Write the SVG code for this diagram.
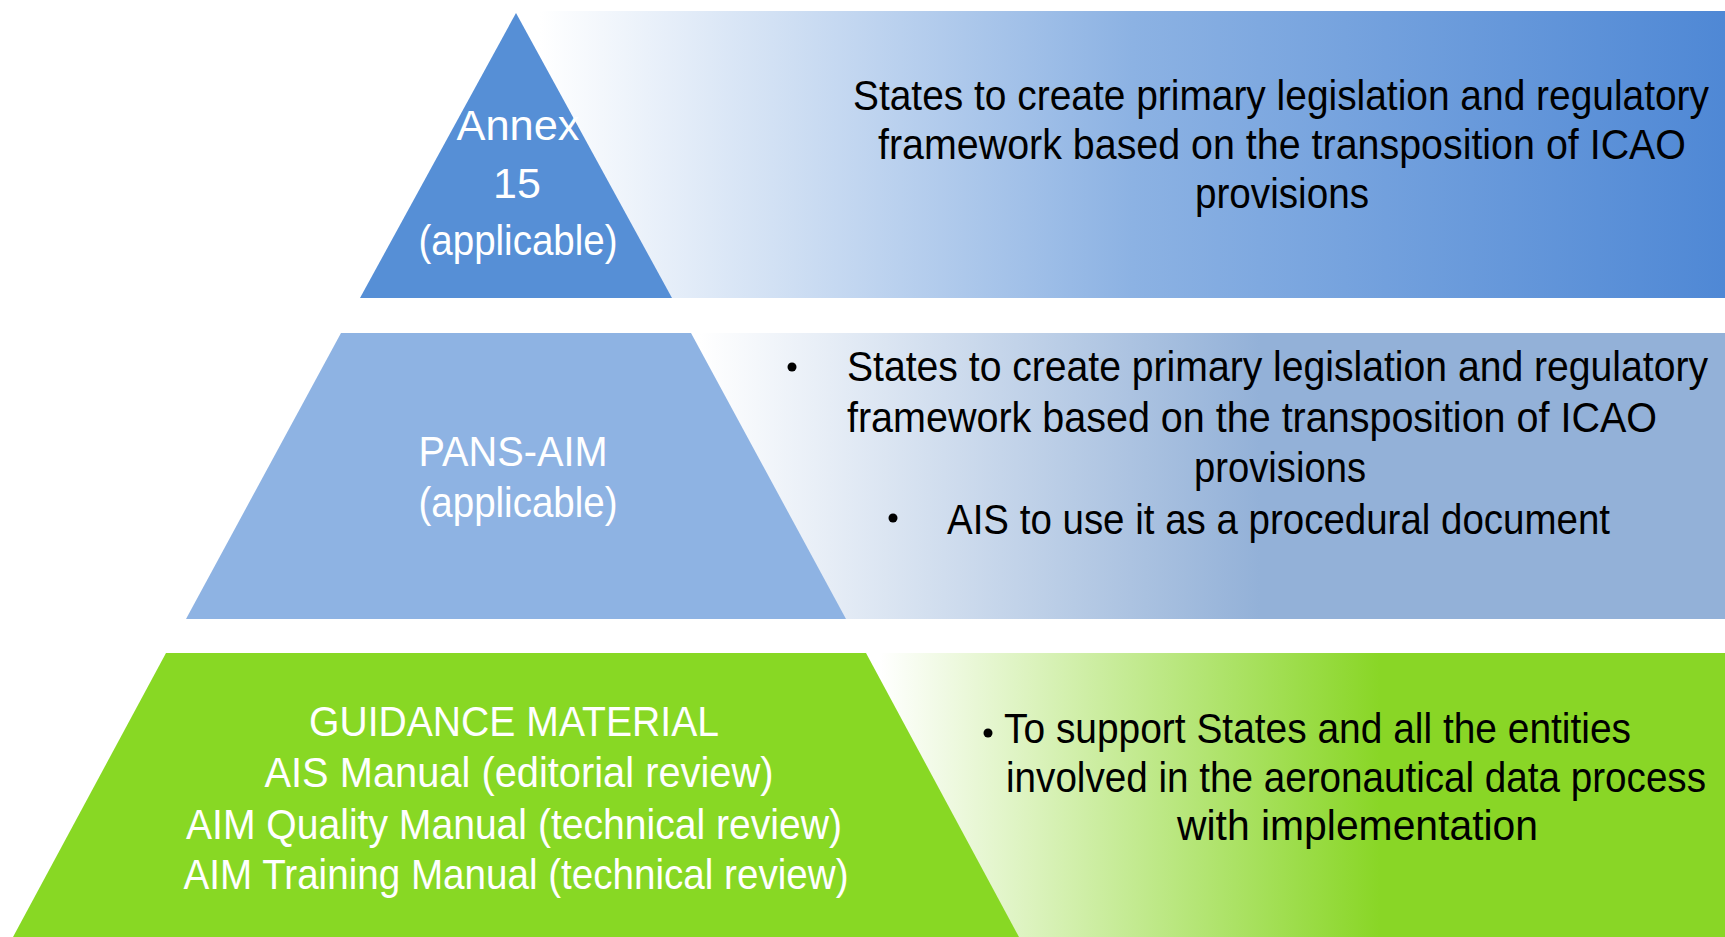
<svg xmlns="http://www.w3.org/2000/svg" width="1725" height="937" viewBox="0 0 1725 937">
<style>
.t{font-family:"Liberation Sans",Arial,sans-serif;font-size:42px;fill:#000}
.w{font-family:"Liberation Sans",Arial,sans-serif;font-size:43px;fill:#fff}
</style>
<defs>
<linearGradient id="g1" gradientUnits="userSpaceOnUse" x1="540" y1="0" x2="1725" y2="0">
<stop offset="0" stop-color="#ffffff"/>
<stop offset="0.5" stop-color="#8cb2e3"/>
<stop offset="1" stop-color="#4f88d5"/>
</linearGradient>
<linearGradient id="g2" gradientUnits="userSpaceOnUse" x1="700" y1="0" x2="1260" y2="0">
<stop offset="0" stop-color="#ffffff"/>
<stop offset="1" stop-color="#93b1d8"/>
</linearGradient>
<linearGradient id="g3" gradientUnits="userSpaceOnUse" x1="880" y1="0" x2="1380" y2="0">
<stop offset="0" stop-color="#ffffff"/>
<stop offset="1" stop-color="#89d626"/>
</linearGradient>
</defs>
<rect width="1725" height="937" fill="#fff"/>
<g id="band1">
<rect x="500" y="11" width="1225" height="287" fill="url(#g1)"/>
<text class="t" x="1709" y="110" text-anchor="end" textLength="856" lengthAdjust="spacingAndGlyphs">States to create primary legislation and regulatory</text>
<text class="t" x="1686" y="159" text-anchor="end" textLength="808" lengthAdjust="spacingAndGlyphs">framework based on the transposition of ICAO</text>
<text class="t" x="1282" y="208" text-anchor="middle" textLength="174" lengthAdjust="spacingAndGlyphs">provisions</text>
</g>
<g id="band2">
<rect x="650" y="333" width="1075" height="286" fill="url(#g2)"/>
<circle cx="792" cy="367" r="4.5" fill="#000"/>
<text class="t" x="1708" y="381" text-anchor="end" textLength="861" lengthAdjust="spacingAndGlyphs">States to create primary legislation and regulatory</text>
<text class="t" x="1657" y="432" text-anchor="end" textLength="810" lengthAdjust="spacingAndGlyphs">framework based on the transposition of ICAO</text>
<text class="t" x="1280" y="482" text-anchor="middle" textLength="172" lengthAdjust="spacingAndGlyphs">provisions</text>
<circle cx="893" cy="518" r="4.5" fill="#000"/>
<text class="t" x="1610" y="534" text-anchor="end" textLength="663" lengthAdjust="spacingAndGlyphs">AIS to use it as a procedural document</text>
</g>
<g id="band3">
<rect x="840" y="653" width="885" height="284" fill="url(#g3)"/>
<circle cx="988" cy="733" r="4.5" fill="#000"/>
<text class="t" x="1631" y="743" text-anchor="end" textLength="627" lengthAdjust="spacingAndGlyphs">To support States and all the entities</text>
<text class="t" x="1706" y="792" text-anchor="end" textLength="700" lengthAdjust="spacingAndGlyphs">involved in the aeronautical data process</text>
<text class="t" x="1177" y="840" textLength="361" lengthAdjust="spacingAndGlyphs">with implementation</text>
</g>
<g id="annex15">
<polygon points="516,13 672,298 360,298" fill="#568fd6"/>
<text class="w" x="518" y="140" text-anchor="middle" textLength="123" lengthAdjust="spacingAndGlyphs">Annex</text>
<text class="w" x="517" y="198" text-anchor="middle">15</text>
<text class="w" x="518" y="255" text-anchor="middle" textLength="199" lengthAdjust="spacingAndGlyphs">(applicable)</text>
</g>
<g id="pansaim">
<polygon points="341,333 691,333 846,619 186,619" fill="#8eb3e3"/>
<text class="w" x="513" y="466" text-anchor="middle" textLength="189" lengthAdjust="spacingAndGlyphs">PANS-AIM</text>
<text class="w" x="518" y="517" text-anchor="middle" textLength="199" lengthAdjust="spacingAndGlyphs">(applicable)</text>
</g>
<g id="guidance">
<polygon points="166,653 866,653 1019,937 13,937" fill="#88d824"/>
<text class="w" x="514" y="736" text-anchor="middle" textLength="410" lengthAdjust="spacingAndGlyphs">GUIDANCE MATERIAL</text>
<text class="w" x="519" y="787" text-anchor="middle" textLength="509" lengthAdjust="spacingAndGlyphs">AIS Manual  (editorial review)</text>
<text class="w" x="514" y="839" text-anchor="middle" textLength="656" lengthAdjust="spacingAndGlyphs">AIM Quality Manual  (technical review)</text>
<text class="w" x="516" y="889" text-anchor="middle" textLength="665" lengthAdjust="spacingAndGlyphs">AIM Training Manual  (technical review)</text>
</g>
<g id="connectors"/>
</svg>
